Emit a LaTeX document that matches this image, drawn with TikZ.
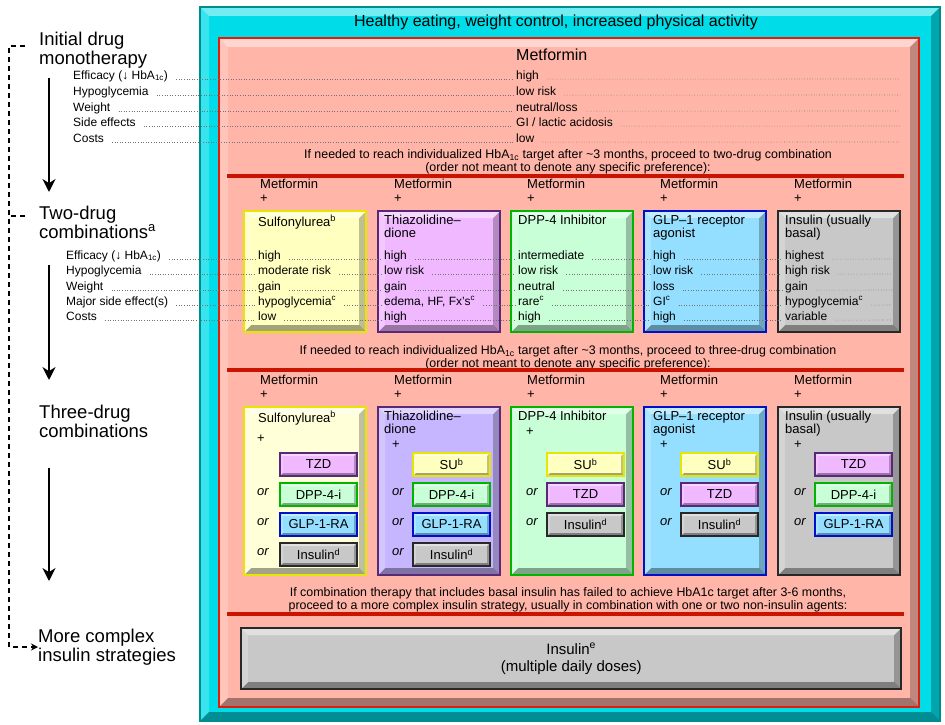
\documentclass[tikz,border=0pt]{standalone}
\usepackage{fontspec}
\setmainfont{Liberation Sans}
\usepackage{tikz}
\usetikzlibrary{arrows.meta}
\usetikzlibrary{calc}
\definecolor{cyanfr}{HTML}{00DDE8}
\definecolor{tealln}{HTML}{008C8C}
\definecolor{salmon}{HTML}{FFB5A8}
\definecolor{redfr}{HTML}{E01E10}
\definecolor{sepred}{HTML}{C81400}
\definecolor{sulfill}{HTML}{FFFFC0}
\definecolor{sulpale}{HTML}{FFFFD8}
\definecolor{sulln}{HTML}{E6E600}
\definecolor{tzdfill}{HTML}{F0B8FF}
\definecolor{tzdlav}{HTML}{C6B6FF}
\definecolor{tzdln}{HTML}{5A2878}
\definecolor{dppfill}{HTML}{C8FFD6}
\definecolor{dppln}{HTML}{00B400}
\definecolor{glpfill}{HTML}{94DEFF}
\definecolor{glpln}{HTML}{0010C8}
\definecolor{insfill}{HTML}{C8C8C8}
\definecolor{insln}{HTML}{282828}
\newcommand\fs[1]{\fontsize{#1}{#1}\selectfont}
\tikzset{bevel/.style={path picture={
  \coordinate (bvA) at (path picture bounding box.north west);
  \coordinate (bvB) at (path picture bounding box.north east);
  \coordinate (bvC) at (path picture bounding box.south east);
  \coordinate (bvD) at (path picture bounding box.south west);
  \fill[white,opacity=.45] (bvA) -- (bvB) -- ($(bvB)+(-#1,#1)$) -- ($(bvA)+(#1,#1)$) -- cycle;
  \fill[white,opacity=.22] (bvA) -- ($(bvA)+(#1,#1)$) -- ($(bvD)+(#1,-#1)$) -- (bvD) -- cycle;
  \fill[black,opacity=.25] (bvB) -- (bvC) -- ($(bvC)+(-#1,-#1)$) -- ($(bvB)+(-#1,#1)$) -- cycle;
  \fill[black,opacity=.36] (bvD) -- (bvC) -- ($(bvC)+(-#1,-#1)$) -- ($(bvD)+(#1,-#1)$) -- cycle;
}}}
\tikzstyle{frame}=[inner sep=0pt,anchor=north west,line width=2pt,bevel=9]
\tikzstyle{drug}=[draw,inner sep=0pt,anchor=north west,line width=2.4pt,bevel=7,minimum width=122pt]
\tikzstyle{sub}=[draw,inner sep=0pt,anchor=north west,line width=2pt,bevel=3,minimum width=77pt,minimum height=23pt,font=\fs{13}]
\tikzstyle{sul}=[fill=sulfill,draw=sulln]
\tikzstyle{tzd}=[fill=tzdfill,draw=tzdln]
\tikzstyle{dpp}=[fill=dppfill,draw=dppln]
\tikzstyle{glp}=[fill=glpfill,draw=glpln]
\tikzstyle{ins}=[fill=insfill,draw=insln]
\tikzstyle{sul3}=[fill=sulpale]
\tikzstyle{tzd3}=[fill=tzdlav]
\tikzstyle{dpp3}=[]
\tikzstyle{glp3}=[]
\tikzstyle{ins3}=[]
\tikzstyle{txt}=[inner sep=0pt,anchor=west,font=\fs{12},text height=8.8pt,text depth=2.5pt]
\tikzstyle{ttl}=[inner sep=0pt,anchor=north west,align=left,font=\fontsize{13}{13}\selectfont]
\tikzstyle{orw}=[inner sep=0pt,font=\fs{13}\itshape]
\tikzstyle{hd}=[inner sep=0pt,anchor=west,align=left,font=\fontsize{18.5}{19}\selectfont]
\tikzstyle{note}=[inner sep=0pt,align=center,font=\fontsize{12.4}{12.8}\selectfont]
\tikzstyle{dots}=[dotted,line width=.6pt,black!55,shorten <=8pt,shorten >=3pt]
\tikzstyle{sep}=[line width=4pt,sepred]
\tikzstyle{flow}=[line width=2pt,-{Stealth[length=13pt,width=13pt]}]
\tikzstyle{jump}=[line width=1.3pt,dash pattern=on 5pt off 4pt,-{Stealth[length=7pt,width=7pt]}]
\begin{document}
\begin{tikzpicture}[x=1pt,y=-1pt]
\useasboundingbox (0,0) rectangle (945,725);
% frames
\node[frame,draw=tealln,fill=cyanfr,minimum width=740pt,minimum height=714pt] (out) at (199,6) {};
\node[frame,draw=redfr,fill=salmon,minimum width=700pt,minimum height=669pt] (in) at (218,37) {};
\node[font=\fs{16}] (hdr) at (556,22) {Healthy eating, weight control, increased physical activity};
\node[font=\fs{16},inner sep=0pt,anchor=west] (met) at (516,55) {Metformin};
% monotherapy rows
\foreach \r/\y/\lab/\v in {1/76/{Efficacy (↓ HbA\textsubscript{1c})}/high, 2/92/Hypoglycemia/{low risk},
    3/108/Weight/{neutral/loss}, 4/123/{Side effects}/{GI / lactic acidosis}, 5/139/Costs/low}{
  \node[txt] (k\r) at (73,\y) {\lab};
  \node[txt] (w\r) at (516,\y) {\v};
  \coordinate (wz\r) at (903,\y+3);
  \draw[dots] (k\r.base east) -- (w\r.base west);
  \draw[dots] (w\r.base east) -- (wz\r);
}
\node[note] (n1) at (568,162) {If needed to reach individualized HbA\textsubscript{1c} target after \textasciitilde3 months, proceed to two-drug combination\\(order not meant to denote any specific preference):};
\coordinate (s1a) at (227,176); \coordinate (s1b) at (904,176);
\draw[sep] (s1a) -- (s1b);
% drug columns, two- and three-drug
\foreach \n/\x/\s/\dx/\t/\py/\ox in {
    a/243/sul/15/{Sulfonylurea\textsuperscript{b}}/439/263,
    b/377/tzd/7/{Thiazolidine–\\dione}/445/398,
    c/510/dpp/8/{DPP-4 Inhibitor}/432/532,
    d/643/glp/10/{GLP–1 receptor\\agonist}/445/666,
    e/777/ins/8/{Insulin (usually\\basal)}/445/800}{
  \node[drug,\s,minimum height=121pt] (two\n) at (\x,210) {};
  \node[drug,\s,\s3,minimum height=168pt] (three\n) at (\x,406) {};
  \node[ttl] (tt\n) at (\x+\dx,215) {\t};
  \node[ttl] (ht\n) at (\x+\dx,411) {\t};
  \node[ttl,font=\fontsize{13}{14}\selectfont] (mt\n) at (\x+17,179) {Metformin\\+};
  \node[ttl,font=\fontsize{13}{14}\selectfont] (mh\n) at (\x+17,375) {Metformin\\+};
  \node[txt,font=\fs{13}] (pl\n) at (\ox-6,\py) {+};
}
% two-drug rows
\foreach \r/\y/\lab/\va/\vb/\vc/\vd/\ve in {
    1/256/{Efficacy (↓ HbA\textsubscript{1c})}/high/high/intermediate/high/highest,
    2/271/Hypoglycemia/{moderate risk}/{low risk}/{low risk}/{low risk}/{high risk},
    3/287/Weight/gain/gain/neutral/loss/gain,
    4/302/{Major side effect(s)}/{hypoglycemia\textsuperscript{c}}/{edema, HF, Fx's\textsuperscript{c}}/{rare\textsuperscript{c}}/{GI\textsuperscript{c}}/{hypoglycemia\textsuperscript{c}},
    5/317/Costs/low/high/high/high/variable}{
  \node[txt] (q\r) at (66,\y) {\lab};
  \node[txt] (v\r-a) at (258,\y) {\va};
  \node[txt] (v\r-b) at (384,\y) {\vb};
  \node[txt] (v\r-c) at (518,\y) {\vc};
  \node[txt] (v\r-d) at (653,\y) {\vd};
  \node[txt] (v\r-e) at (785,\y) {\ve};
  \coordinate (v\r-z) at (895,\y+3);
  \draw[dots] (q\r.base east) -- (v\r-a.base west);
  \draw[dots] (v\r-a.base east) -- (v\r-b.base west);
  \draw[dots] (v\r-b.base east) -- (v\r-c.base west);
  \draw[dots] (v\r-c.base east) -- (v\r-d.base west);
  \draw[dots] (v\r-d.base east) -- (v\r-e.base west);
  \draw[dots] (v\r-e.base east) -- (v\r-z);
}
\node[note] (n2) at (568,358) {If needed to reach individualized HbA\textsubscript{1c} target after \textasciitilde3 months, proceed to three-drug combination\\(order not meant to denote any specific preference):};
\coordinate (s2a) at (227,370); \coordinate (s2b) at (904,370);
\draw[sep] (s2a) -- (s2b);
% three-drug choices
\foreach \n/\sx/\ox/\items in {
    a/279/263/{tzd/TZD,dpp/DPP-4-i,glp/GLP-1-RA,ins/{Insulin\textsuperscript{d}}},
    b/412/398/{sul/{SU\textsuperscript{b}},dpp/DPP-4-i,glp/GLP-1-RA,ins/{Insulin\textsuperscript{d}}},
    c/546/532/{sul/{SU\textsuperscript{b}},tzd/TZD,ins/{Insulin\textsuperscript{d}}},
    d/680/666/{sul/{SU\textsuperscript{b}},tzd/TZD,ins/{Insulin\textsuperscript{d}}},
    e/814/800/{tzd/TZD,dpp/DPP-4-i,glp/GLP-1-RA}}
  \foreach \s/\t [count=\k] in \items {
    \node[sub,\s] (c\n\k) at (\sx,{452+30*(\k-1)}) {\t};
    \ifnum\k>1 \node[orw] (or\n\k) at (\ox,{462+30*(\k-1)}) {or};\fi
  }
\node[note] (n3) at (568,600) {If combination therapy that includes basal insulin has failed to achieve HbA1c target after 3-6 months,\\proceed to a more complex insulin strategy, usually in combination with one or two non-insulin agents:};
\coordinate (s3a) at (227,614); \coordinate (s3b) at (904,614);
\draw[sep] (s3a) -- (s3b);
\node[drug,ins,minimum width=660pt,minimum height=61pt,align=center,font=\fontsize{15}{17}\selectfont] (fin) at (240,627) {Insulin\textsuperscript{e}\\(multiple daily doses)};
% left column
\node[hd] (h1) at (39,50) {Initial drug\\monotherapy};
\node[hd] (h2) at (39,222) {Two-drug\\combinations\textsuperscript{a}};
\node[hd] (h3) at (39,421) {Three-drug\\combinations};
\node[hd] (h4) at (38,647) {More complex\\insulin strategies};
\coordinate (a1) at (49,78);  \coordinate (a2) at (49,192);
\coordinate (a3) at (49,265); \coordinate (a4) at (49,380);
\coordinate (a5) at (49,468); \coordinate (a6) at (49,581);
\draw[flow] (a1) -- (a2);
\draw[flow] (a3) -- (a4);
\draw[flow] (a5) -- (a6);
\coordinate (d0) at (25,46); \coordinate (dc) at (9,46); \coordinate (d1) at (25,216);
\draw[jump] (d0) -- (dc) |- (h4.west);
\draw[jump,-] (d1) -- (d1 -| dc);
\end{tikzpicture}
\end{document}
